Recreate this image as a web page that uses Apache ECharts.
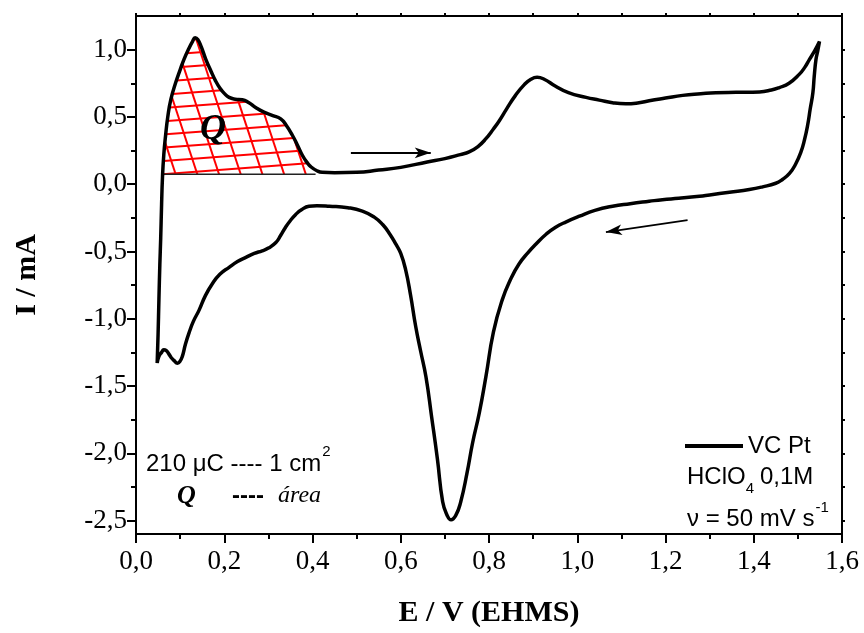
<!DOCTYPE html>
<html><head><meta charset="utf-8">
<script src="https://cdn.jsdelivr.net/npm/echarts@6/dist/echarts.min.js"></script>
<style>html,body{margin:0;padding:0;background:#fff}#c{width:864px;height:633px}</style>
</head><body><div id="c"></div>
<script>
// ---- data ----
const ANODIC_E = [0.048,0.050,0.052,0.054,0.056,0.058,0.060,0.063,0.067,0.072,0.079,0.090,0.100,0.109,0.120,0.128,0.134,0.140,0.148,0.158,0.170,0.180,0.190,0.200,0.211,0.225,0.241,0.256,0.271,0.290,0.310,0.328,0.340,0.355,0.366,0.377,0.388,0.396,0.410,0.422,0.450,0.500,0.550,0.600,0.660,0.700,0.735,0.755,0.775,0.793,0.810,0.823,0.840,0.860,0.880,0.895,0.909,0.925,0.950,0.980,1.020,1.050,1.080,1.110,1.140,1.163,1.200,1.239,1.280,1.314,1.360,1.413,1.440,1.458,1.480,1.503,1.516,1.526,1.538,1.549];
const ANODIC_I = [-1.33,-1.12,-0.85,-0.60,-0.40,-0.15,0.05,0.22,0.36,0.50,0.63,0.755,0.85,0.93,1.01,1.06,1.088,1.075,1.02,0.93,0.84,0.77,0.715,0.675,0.645,0.632,0.628,0.605,0.57,0.535,0.51,0.485,0.44,0.36,0.29,0.215,0.16,0.13,0.10,0.088,0.085,0.088,0.105,0.125,0.165,0.19,0.22,0.24,0.28,0.338,0.41,0.47,0.56,0.66,0.74,0.78,0.794,0.78,0.73,0.68,0.645,0.625,0.605,0.597,0.605,0.62,0.64,0.66,0.672,0.68,0.683,0.686,0.70,0.718,0.75,0.816,0.87,0.926,0.99,1.06];
const CATHODIC_E = [1.545,1.541,1.537,1.534,1.528,1.522,1.515,1.507,1.495,1.481,1.465,1.450,1.420,1.390,1.345,1.300,1.277,1.230,1.193,1.163,1.120,1.080,1.040,1.005,0.975,0.951,0.930,0.906,0.888,0.868,0.850,0.830,0.810,0.793,0.778,0.763,0.750,0.736,0.725,0.714,0.705,0.695,0.683,0.670,0.657,0.645,0.634,0.622,0.611,0.600,0.589,0.575,0.559,0.540,0.513,0.480,0.438,0.410,0.392,0.375,0.362,0.350,0.339,0.328,0.317,0.300,0.286,0.268,0.249,0.230,0.211,0.190,0.173,0.157,0.143,0.130,0.120,0.112,0.105,0.099,0.094,0.086,0.080,0.075,0.068,0.063,0.058,0.052,0.048];
const CATHODIC_I = [0.99,0.926,0.80,0.68,0.56,0.436,0.33,0.24,0.15,0.08,0.035,0.007,-0.02,-0.04,-0.06,-0.08,-0.09,-0.105,-0.115,-0.127,-0.145,-0.164,-0.195,-0.238,-0.28,-0.32,-0.37,-0.446,-0.51,-0.593,-0.70,-0.86,-1.10,-1.43,-1.70,-1.92,-2.15,-2.36,-2.46,-2.495,-2.46,-2.36,-2.04,-1.73,-1.43,-1.24,-1.06,-0.82,-0.635,-0.515,-0.446,-0.37,-0.30,-0.245,-0.20,-0.175,-0.164,-0.16,-0.164,-0.19,-0.225,-0.27,-0.32,-0.38,-0.434,-0.475,-0.495,-0.515,-0.544,-0.575,-0.618,-0.67,-0.74,-0.83,-0.936,-1.02,-1.107,-1.19,-1.28,-1.32,-1.33,-1.31,-1.29,-1.265,-1.235,-1.23,-1.25,-1.28,-1.33];
const X_MIN = 0, X_MAX = 1.6;
const Y_MIN = -2.6, Y_MAX = 1.25;
const Y_MAJOR = [-2.5,-2,-1.5,-1,-0.5,0,0.5,1];
const Y_MINOR = [-2.25,-1.75,-1.25,-0.75,-0.25,0.25,0.75];
const Y_RIGHT = Y_MAJOR.concat(Y_MINOR);
const ARROW_FWD = [[0.487,0.233],[0.668,0.233]];
const ARROW_REV = [[1.250,-0.267],[1.065,-0.356]];
const Q_BASE = 0.074, Q_END = 0.407;

// ---- build ----
const CV = [];
ANODIC_E.forEach((e,i)=>CV.push([e, ANODIC_I[i]]));
CATHODIC_E.forEach((e,i)=>CV.push([e, CATHODIC_I[i]]));

function buildQPoly(){
  const pts = []; let started = false;
  for (let i=1;i<ANODIC_E.length;i++){
    const e0=ANODIC_E[i-1], i0=ANODIC_I[i-1], e1=ANODIC_E[i], i1=ANODIC_I[i];
    if(!started){
      if(i0 < Q_BASE && i1 >= Q_BASE){
        const u=(Q_BASE-i0)/(i1-i0);
        pts.push([e0+(e1-e0)*u, Q_BASE]); pts.push([e1,i1]); started=true;
      }
      continue;
    }
    if (e1 >= Q_END){
      const u=(Q_END-e0)/(e1-e0);
      pts.push([Q_END, i0+(i1-i0)*u]); pts.push([Q_END, Q_BASE]); break;
    }
    pts.push([e1,i1]);
  }
  return pts;
}
const Q_POLY = buildQPoly();

function renderHatch(params, api){
  const poly = Q_POLY.map(p=>api.coord(p));
  const n = poly.length, b0 = poly[0];
  const kids = [];
  const fams = [
    {dir:[1,-0.075], ref:[b0[0], b0[1]], step:13.2},
    {dir:[0.33,1], ref:[b0[0]+13, b0[1]], step:20.6}
  ];
  fams.forEach(f=>{
    const L=Math.hypot(f.dir[0],f.dir[1]);
    const d=[f.dir[0]/L,f.dir[1]/L], nr=[-d[1],d[0]];
    const proj=poly.map(q=>(q[0]-f.ref[0])*nr[0]+(q[1]-f.ref[1])*nr[1]);
    const smin=Math.min.apply(null,proj), smax=Math.max.apply(null,proj);
    for(let k=Math.ceil(smin/f.step);k<=Math.floor(smax/f.step);k++){
      const s=k*f.step, p=[f.ref[0]+s*nr[0], f.ref[1]+s*nr[1]];
      const ts=[];
      for(let i=0;i<n;i++){
        const a=poly[i], b=poly[(i+1)%n];
        const sa=(a[0]-p[0])*nr[0]+(a[1]-p[1])*nr[1];
        const sb=(b[0]-p[0])*nr[0]+(b[1]-p[1])*nr[1];
        if((sa<0&&sb>=0)||(sa>=0&&sb<0)){
          const u=sa/(sa-sb);
          const q=[a[0]+(b[0]-a[0])*u, a[1]+(b[1]-a[1])*u];
          ts.push((q[0]-p[0])*d[0]+(q[1]-p[1])*d[1]);
        }
      }
      ts.sort((x,y)=>x-y);
      for(let j=0;j+1<ts.length;j+=2){
        kids.push({type:'line', shape:{x1:p[0]+ts[j]*d[0], y1:p[1]+ts[j]*d[1], x2:p[0]+ts[j+1]*d[0], y2:p[1]+ts[j+1]*d[1]}, style:{stroke:'#ff0000', lineWidth:2}});
      }
    }
  });
  kids.push({type:'line', shape:{x1:poly[0][0], y1:poly[0][1], x2:poly[n-1][0], y2:poly[n-1][1]}, style:{stroke:'#222', lineWidth:1.5}});
  return {type:'group', children:kids};
}

const fmt = v => Number(v).toFixed(1).replace('.', ',');
const SERIF = '"Liberation Serif","Times New Roman",serif';
const SANS = '"Liberation Sans",Arial,sans-serif';
const black = '#000';
const lineS = {color:black, width:2};

function txt(x, y, text, font, align){
  return {type:'text', x:x, y:y, silent:true, z:10,
    style:{text:text, font:font, fill:black, textAlign:align||'left', align:align||'left', textVerticalAlign:'middle', verticalAlign:'middle'}};
}
const mctx = document.createElement('canvas').getContext('2d');
function tw(t, font){ mctx.font = font; return mctx.measureText(t).width; }

const F24 = '24px ' + SANS, F15 = '15px ' + SANS;
const t1 = '210 \u03bcC ---- 1 cm';
const t3 = '\u03bd = 50 mV s';

const chart = echarts.init(document.getElementById('c'), null, {renderer:'canvas'});
chart.setOption({
  animation:false,
  backgroundColor:'#fff',
  grid:{left:136, right:22, top:16, bottom:94, containLabel:false},
  legend:{data:[{name:'VC Pt', icon:'rect', itemStyle:{color:black}}], left:685, top:434, padding:0, itemWidth:58, itemHeight:4,
    textStyle:{fontFamily:SANS, fontSize:24, color:black}, selectedMode:false},
  xAxis:[
    {type:'value', min:X_MIN, max:X_MAX, interval:0.2, position:'bottom',
     axisLine:{show:true, onZero:false, lineStyle:lineS},
     axisTick:{show:true, inside:false, length:9, lineStyle:lineS},
     minorTick:{show:true, splitNumber:2, length:5, lineStyle:lineS},
     splitLine:{show:false}, minorSplitLine:{show:false},
     axisLabel:{formatter:fmt, fontFamily:SERIF, fontSize:27, color:black, margin:14},
     name:'E / V (EHMS)', nameLocation:'middle', nameGap:64,
     nameTextStyle:{fontFamily:SERIF, fontWeight:'bold', fontSize:30, color:black}},
    {type:'value', min:X_MIN, max:X_MAX, interval:0.1, position:'top',
     axisLine:{show:true, onZero:false, lineStyle:lineS},
     axisTick:{show:true, inside:false, length:3, lineStyle:lineS},
     axisLabel:{show:false}, splitLine:{show:false}}
  ],
  yAxis:[
    {type:'value', min:Y_MIN, max:Y_MAX, position:'left',
     axisLine:{show:true, onZero:false, lineStyle:lineS},
     axisTick:{show:true, inside:false, length:9, lineStyle:lineS, customValues:Y_MAJOR},
     axisLabel:{customValues:Y_MAJOR, formatter:fmt, fontFamily:SERIF, fontSize:27, color:black, margin:9},
     splitLine:{show:false},
     name:'I / mA', nameLocation:'middle', nameGap:94, nameRotate:90,
     nameTextStyle:{fontFamily:SERIF, fontWeight:'bold', fontSize:30, color:black}},
    {type:'value', min:Y_MIN, max:Y_MAX, position:'left',
     axisLine:{show:false, onZero:false},
     axisTick:{show:true, inside:false, length:5, lineStyle:lineS, customValues:Y_MINOR},
     axisLabel:{show:false}, splitLine:{show:false}},
    {type:'value', min:Y_MIN, max:Y_MAX, position:'right',
     axisLine:{show:true, onZero:false, lineStyle:lineS},
     axisTick:{show:true, inside:false, length:3, lineStyle:lineS, customValues:Y_RIGHT},
     axisLabel:{show:false}, splitLine:{show:false}}
  ],
  series:[
    {type:'custom', name:'Q', xAxisIndex:0, yAxisIndex:0, renderItem:renderHatch, data:[[0,0]], z:1, silent:true},
    {type:'line', name:'VC Pt', xAxisIndex:0, yAxisIndex:0, data:CV, symbol:'none', showSymbol:false,
     smooth:0.5, z:3, lineStyle:{color:black, width:3.5}, itemStyle:{color:black},
     markLine:{silent:true, symbol:['none','arrow'], symbolSize:[8,16], animation:false,
       lineStyle:{color:black, width:1.8, type:'solid'}, label:{show:false}, emphasis:{disabled:true},
       data:[[{coord:ARROW_FWD[0]},{coord:ARROW_FWD[1]}],[{coord:ARROW_REV[0]},{coord:ARROW_REV[1]}]]}}
  ],
  graphic:[
    txt(213, 130, 'Q', 'italic bold 36px ' + SERIF, 'center'),
    txt(146, 464, t1, F24),
    txt(146 + tw(t1, F24) + 1, 452, '2', F15),
    txt(177, 496, 'Q', 'italic bold 26px ' + SERIF),
    txt(232, 496, '----', 'bold 24px ' + SANS),
    txt(278, 496, '\u00e1rea', 'italic 24px ' + SERIF),
    txt(687, 477, 'HClO', F24),
    txt(687 + tw('HClO', F24), 489, '4', F15),
    txt(687 + tw('HClO', F24) + tw('4', F15) + 6, 477, '0,1M', F24),
    txt(687, 519, t3, F24),
    txt(687 + tw(t3, F24) + 1, 508, '-1', F15)
  ]
});
</script></body></html>
